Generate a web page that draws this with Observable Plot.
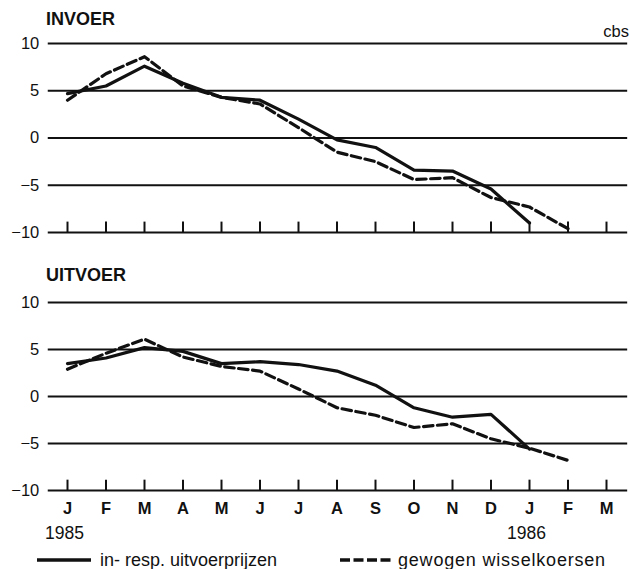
<!DOCTYPE html>
<html>
<head>
<meta charset="utf-8">
<script src="https://cdn.jsdelivr.net/npm/d3@7"></script>
<script src="https://cdn.jsdelivr.net/npm/@observablehq/plot@0.6"></script>
<style>
  html, body { margin: 0; padding: 0; background: #fff; }
  #root { position: relative; width: 630px; height: 569px; background: #fff; overflow: hidden;
          font-family: "Liberation Sans", Arial, Helvetica, sans-serif; color: #111; }
  #root svg.plot { position: absolute; left: 0; }
  .txt { position: absolute; line-height: 1; white-space: nowrap; }
  .title { font-weight: bold; font-size: 18px; }
  .leg { font-size: 18px; }
  .sw { position: absolute; }
</style>
</head>
<body>
<div id="root"></div>
<script>
// ---- data ----
const months = ["J","F","M","A","M","J","J","A","S","O","N","D","J","F","M"];
const years = ["1985", "1986"];
const yearIndex = [0, 12];
const yTicks = [-10, -5, 0, 5, 10];

// INVOER (import), monthly from Jan 1985
const invoerPrijzen = [4.7, 5.5, 7.6, 5.8, 4.3, 4.0, 2.0, -0.2, -1.0, -3.4, -3.5, -5.4, -9.0];
const invoerKoersen = [4.0, 6.8, 8.6, 5.5, 4.3, 3.6, 1.1, -1.5, -2.5, -4.4, -4.2, -6.3, -7.3, -9.6];
// UITVOER (export), monthly from Jan 1985
const uitvoerPrijzen = [3.5, 4.1, 5.2, 4.8, 3.5, 3.7, 3.4, 2.7, 1.2, -1.2, -2.2, -1.9, -5.6];
const uitvoerKoersen = [2.9, 4.6, 6.1, 4.2, 3.2, 2.7, 0.8, -1.2, -2.0, -3.3, -2.9, -4.5, -5.5, -6.8];

const titles = ["INVOER", "UITVOER"];
const source = "cbs";
const legendLabels = ["in- resp. uitvoerprijzen", "gewogen wisselkoersen"];

const FONT = '"Liberation Sans", Arial, Helvetica, sans-serif';
const INK = "#111";

function panel({prijzen, koersen, height, marginTop, marginBottom, bottom}) {
  const marks = [
    Plot.ruleY(yTicks, {y: d => d, x1: -0.5, x2: 14.55, stroke: INK, strokeWidth: 2}),
    Plot.ruleX(d3.range(months.length), {x: d => d, y1: -10, y2: -8.9, stroke: INK, strokeWidth: 2}),
    Plot.text(yTicks, {x: -0.5, y: d => d, dx: -9, textAnchor: "end",
      text: d => d < 0 ? "\u2212" + Math.abs(d) : String(d), fontSize: 16.5, fill: INK}),
    Plot.line(koersen, {x: (d, i) => i, y: d => d, stroke: INK, strokeWidth: 3.2,
      strokeDasharray: "9.5,4.5", strokeLinejoin: "round"}),
    Plot.line(prijzen, {x: (d, i) => i, y: d => d, stroke: INK, strokeWidth: 3.2,
      strokeLinejoin: "round"})
  ];
  if (bottom) {
    marks.push(Plot.text(months, {x: (d, i) => i, y: -10, dy: 18, text: d => d,
      fontSize: 16.5, fontWeight: "bold", fill: INK}));
    marks.push(Plot.text(years, {x: (d, i) => yearIndex[i], y: -10, dy: 43, dx: -3, text: d => d,
      fontSize: 17.5, fill: INK}));
  }
  return Plot.plot({
    width: 630,
    height,
    marginLeft: 67,
    marginRight: 24,
    marginTop,
    marginBottom,
    style: {fontFamily: FONT, background: "transparent", overflow: "visible"},
    x: {domain: [0, 14], axis: null},
    y: {domain: [-10, 10], axis: null},
    marks
  });
}

const root = document.getElementById("root");

const top1 = panel({prijzen: invoerPrijzen, koersen: invoerKoersen,
  height: 250, marginTop: 43, marginBottom: 18, bottom: false});
top1.style.top = "0px";
root.appendChild(top1);

const bot = panel({prijzen: uitvoerPrijzen, koersen: uitvoerKoersen,
  height: 300, marginTop: 52, marginBottom: 60, bottom: true});
bot.style.top = "250px";
root.appendChild(bot);

function addText(cls, left, top, text, extra) {
  const d = document.createElement("div");
  d.className = "txt " + cls;
  d.style.left = left + "px"; d.style.top = top + "px";
  d.textContent = text;
  if (extra) Object.assign(d.style, extra);
  root.appendChild(d);
  return d;
}
addText("title", 46, 10, titles[0]);
addText("title", 46, 266, titles[1]);
addText("", 0, 23, source, {left: "auto", right: "1px", fontSize: "16.5px"});

// legend
function swatch(left, width, dashed) {
  const ns = "http://www.w3.org/2000/svg";
  const s = document.createElementNS(ns, "svg");
  s.setAttribute("width", width); s.setAttribute("height", 8);
  s.setAttribute("class", "sw");
  s.style.left = left + "px"; s.style.top = "556px";
  const l = document.createElementNS(ns, "line");
  l.setAttribute("x1", 0); l.setAttribute("x2", width);
  l.setAttribute("y1", 4); l.setAttribute("y2", 4);
  l.setAttribute("stroke", INK); l.setAttribute("stroke-width", 3.6);
  if (dashed) l.setAttribute("stroke-dasharray", "10,3.5");
  s.appendChild(l);
  root.appendChild(s);
}
swatch(37, 54, false);
addText("leg", 100, 551, legendLabels[0]);
swatch(340, 52, true);
addText("leg", 398, 551, legendLabels[1], {letterSpacing: "0.8px"});
</script>
</body>
</html>
